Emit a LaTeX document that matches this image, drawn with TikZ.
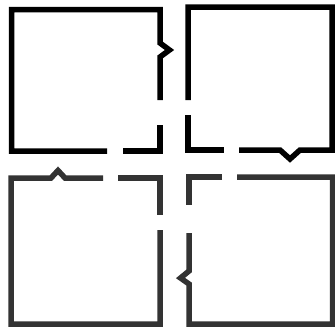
\documentclass[tikz,border=0pt]{standalone}
\usepackage{tikz}

\tikzset{
  wall/.style={line width=5.5pt, line join=miter},
  upper/.style={wall, black},
  lower/.style={wall, black!80}
}

\begin{document}
\begin{tikzpicture}[x=1pt,y=-1pt]
	\useasboundingbox (0,0) rectangle (335,327);
	% top left room
	\draw[upper] (107,151) -- (11.5,151) -- (11.5,9.5) -- (160,9.5) -- (160,43) -- (169.5,50) -- (160,57) -- (160,100);
	\draw[upper] (123,151) -- (160,151) -- (160,125);
	% top right room
	\draw[upper] (188,100) -- (188,7) -- (332,7) -- (332,150) -- (300,150) -- (290,159) -- (280,150) -- (239,150);
	\draw[upper] (188,115) -- (188,150) -- (224,150);
	% bottom left room
	\draw[lower] (103,178) -- (65,178) -- (58,170.5) -- (51,178) -- (11,178) -- (11,324) -- (160,324) -- (160,230);
	\draw[lower] (118,178) -- (160,178) -- (160,215);
	% bottom right room
	\draw[lower] (222,177) -- (189,177) -- (189,205);
	\draw[lower] (237,177) -- (332.5,177) -- (332.5,324) -- (189,324) -- (189,284) -- (180.5,278) -- (189,271) -- (189,233);
\end{tikzpicture}
\end{document}
